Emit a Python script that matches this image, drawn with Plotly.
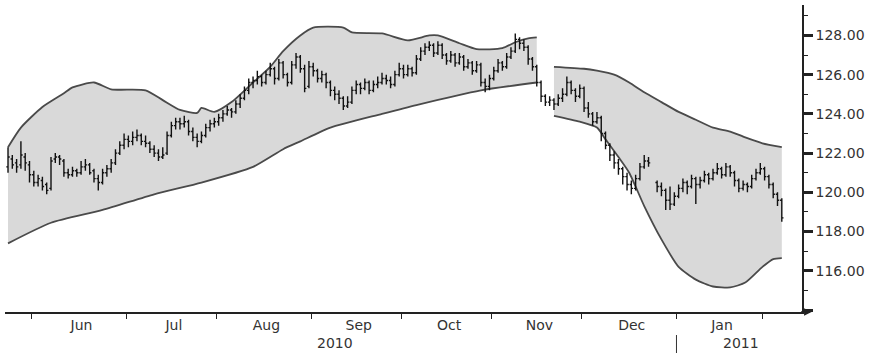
import plotly.graph_objects as go

# trading-day index (0 = first trading day of June 2010)
day_index = list(range(-6, 175))

opens = [121.3,121.7,121.5,121.4,121.8,121.4,
 120.9,120.5,120.6,120.4,120.2,121.7,121.8,121.6,121.0,120.9,
 121.1,121.0,121.3,121.4,121.1,120.7,120.5,121.0,121.2,121.5,
 122.0,122.4,122.7,122.6,122.8,122.9,122.6,122.5,122.2,122.0,
 121.8,122.0,122.9,123.4,123.6,123.5,123.6,123.1,122.8,122.6,
 122.9,123.3,123.5,123.6,123.8,124.0,124.2,124.1,124.5,124.8,
 125.2,125.6,125.7,125.9,125.6,126.0,126.3,125.8,126.6,126.0,
 125.6,126.5,126.9,126.3,125.4,126.4,126.2,125.8,126.0,125.6,
 125.2,125.0,124.8,124.4,124.6,125.2,125.5,125.3,125.6,125.2,
 125.5,125.6,125.8,125.7,125.5,126.0,126.3,126.0,126.3,126.1,
 126.8,127.2,127.4,127.5,127.1,127.5,127.0,126.7,127.0,126.6,
 126.9,126.4,126.6,126.2,126.5,125.6,125.4,125.8,126.2,126.6,
 126.4,126.9,127.2,127.8,127.6,127.4,126.8,126.4,125.6,124.9,
 124.6,124.7,124.5,124.8,125.0,125.6,125.2,124.9,125.3,124.3,
 124.0,123.6,123.8,123.0,122.4,121.9,121.5,121.2,120.8,120.4,
 120.2,120.7,121.3,121.6,None,120.5,120.3,120.1,119.6,119.4,
 119.8,120.2,120.5,120.3,120.7,120.4,120.6,120.9,120.7,121.0,
 121.2,120.9,121.3,121.0,120.6,120.2,120.4,120.3,120.7,121.0,
 121.2,120.8,120.4,119.9,119.6]

highs = [122.3,121.9,121.7,122.6,122.0,121.6,
 121.1,120.9,120.8,120.5,121.8,122.0,121.9,121.7,121.2,121.3,
 121.2,121.6,121.7,121.5,121.2,120.9,121.2,121.4,121.7,122.2,
 122.6,123.0,122.9,123.1,123.2,123.0,122.9,122.6,122.4,122.2,
 122.3,123.1,123.6,123.8,123.8,123.9,123.7,123.3,123.0,123.1,
 123.5,123.7,123.8,124.0,124.2,124.4,124.3,124.7,125.0,125.4,
 125.8,125.9,126.2,126.0,126.2,126.6,126.4,126.8,126.7,126.1,
 126.7,127.1,127.0,126.5,126.7,126.6,126.3,126.2,126.1,125.7,
 125.4,125.2,124.9,124.9,125.4,125.7,125.6,125.8,125.7,125.7,
 125.9,126.1,126.0,125.9,126.2,126.6,126.5,126.5,126.4,127.0,
 127.4,127.6,127.7,127.6,127.7,127.6,127.1,127.2,127.1,127.1,
 127.0,126.8,126.7,126.7,126.6,125.8,126.0,126.4,126.8,126.7,
 127.1,127.4,128.1,127.9,127.8,127.5,126.9,126.5,125.7,125.0,
 124.9,124.8,125.0,125.3,125.9,125.7,125.3,125.5,125.4,124.6,
 124.1,124.1,123.9,123.1,122.5,122.1,121.7,121.3,121.0,120.6,
 120.9,121.5,121.9,121.8,None,120.6,120.5,120.2,120.3,120.0,
 120.4,120.7,120.6,120.9,120.8,120.8,121.1,121.0,121.2,121.5,
 121.3,121.5,121.4,121.1,120.7,120.6,120.5,120.9,121.2,121.5,
 121.3,120.9,120.5,120.0,119.7]

lows = [121.0,121.2,121.0,121.2,121.1,120.5,
 120.3,120.3,120.1,119.9,120.1,121.5,121.4,120.8,120.7,120.8,
 120.8,120.9,121.1,120.9,120.5,120.1,120.4,120.8,121.0,121.4,
 121.9,122.2,122.3,122.4,122.6,122.4,122.3,122.0,121.8,121.6,
 121.7,121.9,122.8,123.2,123.2,123.3,122.9,122.6,122.3,122.5,
 122.8,123.1,123.3,123.4,123.6,123.9,123.8,124.0,124.3,124.7,
 125.0,125.3,125.5,125.4,125.5,125.9,125.5,125.7,125.8,125.4,
 125.5,126.3,126.1,125.1,125.3,125.9,125.6,125.6,125.3,124.9,
 124.7,124.5,124.2,124.3,124.5,125.0,125.0,125.2,125.0,125.1,
 125.3,125.5,125.5,125.3,125.4,125.9,125.8,125.9,125.9,126.0,
 126.7,127.0,127.2,126.9,127.0,126.8,126.5,126.6,126.4,126.5,
 126.2,126.3,126.0,126.1,125.4,125.1,125.2,125.7,126.1,126.2,
 126.3,126.8,127.1,127.3,127.2,126.5,126.2,125.4,124.6,124.4,
 124.4,124.2,124.4,124.6,124.9,125.0,124.6,124.8,124.1,123.8,
 123.4,123.5,122.6,122.2,121.6,121.2,120.9,120.4,120.1,119.9,
 120.1,120.6,121.2,121.3,None,120.0,119.8,119.1,119.1,119.3,
 119.7,120.0,119.9,120.2,119.4,120.2,120.5,120.4,120.6,120.9,
 120.7,120.8,120.8,120.3,120.0,120.1,120.0,120.2,120.6,120.9,
 120.6,120.2,119.7,119.3,118.5]

closes = [121.8,121.4,121.3,121.9,121.5,120.9,
 120.5,120.7,120.3,120.1,121.6,121.8,121.7,121.0,120.9,121.1,
 121.0,121.3,121.4,121.0,120.7,120.5,121.0,121.2,121.5,122.0,
 122.4,122.7,122.6,122.8,122.9,122.6,122.5,122.2,122.0,121.8,
 121.9,122.9,123.4,123.6,123.5,123.6,123.1,122.8,122.6,122.9,
 123.3,123.5,123.6,123.8,124.0,124.2,124.1,124.5,124.8,125.2,
 125.6,125.7,125.9,125.6,126.0,126.3,125.8,126.6,126.0,125.6,
 126.5,126.9,126.3,125.3,126.4,126.2,125.8,126.0,125.6,125.2,
 125.0,124.8,124.4,124.6,125.2,125.5,125.3,125.6,125.2,125.5,
 125.6,125.8,125.7,125.5,126.0,126.3,126.0,126.3,126.1,126.8,
 127.2,127.4,127.5,127.1,127.5,127.0,126.7,127.0,126.6,126.9,
 126.4,126.6,126.2,126.5,125.6,125.4,125.8,126.2,126.6,126.4,
 126.9,127.2,127.8,127.6,127.4,126.8,126.4,125.6,124.9,124.6,
 124.7,124.5,124.8,125.0,125.6,125.2,124.9,125.3,124.3,124.0,
 123.6,123.8,123.0,122.4,121.9,121.5,121.2,120.8,120.4,120.2,
 120.7,121.3,121.6,121.5,None,120.3,120.1,119.6,119.4,119.8,
 120.2,120.5,120.3,120.7,120.4,120.6,120.9,120.7,121.0,121.2,
 120.9,121.3,121.0,120.6,120.2,120.4,120.3,120.7,121.0,121.2,
 120.8,120.4,119.9,119.6,118.7]

# envelope band, first segment
upper1_x = [-6,-3,2,7,9,14,18,26,30,34,38,39,42,46,51,55,58,62,65,72,74,81,87,92,94,99,103,109,112,115,117]
upper1_y = [122.3,123.3,124.35,125.05,125.35,125.6,125.25,125.2,124.7,124.2,124.05,124.3,124.1,124.6,125.6,
            126.4,127.2,128.0,128.4,128.4,128.15,128.1,127.75,128.0,128.0,127.6,127.3,127.35,127.65,127.85,127.9]
lower1_x = [-6,4,16,28,39,51,58,62,69,81,89,104,117]
lower1_y = [117.4,118.45,119.1,119.9,120.5,121.3,122.2,122.6,123.3,124.0,124.45,125.2,125.6]
# envelope band, second segment
upper2_x = [121,128,131,135,138.5,142,146,150,154,158,162,165.5,169.5,174]
upper2_y = [126.4,126.3,126.2,126.0,125.6,125.1,124.6,124.1,123.7,123.3,123.1,122.8,122.5,122.3]
lower2_x = [121,127,131,133,136,138.5,142,146,150,154,158,162,165.5,169.5,172,174]
lower2_y = [123.9,123.6,123.3,122.7,121.8,121.0,119.3,117.6,116.2,115.55,115.2,115.15,115.4,116.2,116.6,116.65]

month_bounds = [-0.5,21.5,42.5,64.5,85.5,106.5,127.5,149.5,169.5]
month_labels = ["Jun","Jul","Aug","Sep","Oct","Nov","Dec","Jan"]
year_labels = ["2010","2011"]
year_pos = [70,164.5]
y_ticks = [114,116,118,120,122,124,126,128]
y_ticktext = ["","116.00","118.00","120.00","122.00","124.00","126.00","128.00"]
y_minor = [115,117,119,121,123,125,127,129]

month_centers = [(a+b)/2 + 0.6 for a,b in zip(month_bounds[:-1], month_bounds[1:])]

BAND_LINE = "#4a4a4a"
BAND_FILL = "#d9d9d9"
TXT = "#333333"
AX = "#222222"

fig = go.Figure()
for lx, ly, ux, uy in [(lower1_x, lower1_y, upper1_x, upper1_y), (lower2_x, lower2_y, upper2_x, upper2_y)]:
    fig.add_trace(go.Scatter(x=lx, y=ly, mode="lines", line=dict(color=BAND_LINE, width=1.8, shape="spline", smoothing=0.6),
                             showlegend=False, hoverinfo="skip"))
    fig.add_trace(go.Scatter(x=ux, y=uy, mode="lines", line=dict(color=BAND_LINE, width=1.8, shape="spline", smoothing=0.6),
                             fill="tonexty", fillcolor=BAND_FILL, showlegend=False, hoverinfo="skip"))

# price bars on an overlaid subplot so they are drawn above the band
fig.add_trace(go.Ohlc(x=day_index, open=opens, high=highs, low=lows, close=closes,
                      xaxis="x2", yaxis="y2",
                      increasing=dict(line=dict(color="#111111", width=1.4)),
                      decreasing=dict(line=dict(color="#111111", width=1.4)),
                      tickwidth=0.4, showlegend=False))

xr = [-6.7, 178.7]
yr = [113.9, 129.55]
fig.update_layout(
    width=872, height=353,
    margin=dict(l=5, r=70, t=5, b=41, autoexpand=False),
    paper_bgcolor="white", plot_bgcolor="white",
    font=dict(family="DejaVu Sans", size=14, color=TXT),
    xaxis=dict(range=xr, showgrid=False, zeroline=False, showline=True, linecolor=AX, linewidth=1.5,
               ticks="outside", tickvals=month_bounds, ticklen=5, tickcolor=AX, tickwidth=1.2,
               showticklabels=False, rangeslider=dict(visible=False), automargin=False),
    xaxis2=dict(range=xr, overlaying="x", anchor="y2", side="bottom", showgrid=False, zeroline=False, showline=False,
                tickvals=month_centers, ticktext=month_labels, ticks="", ticklabelstandoff=3,
                tickfont=dict(family="DejaVu Sans", size=14, color=TXT), rangeslider=dict(visible=False),
                automargin=False),
    yaxis=dict(range=yr, side="right", showgrid=False, zeroline=False, showline=True,
               linecolor=AX, linewidth=1.5, ticks="outside", tickvals=y_ticks, ticktext=y_ticktext,
               ticklen=9, tickwidth=2.5, tickcolor=AX, automargin=False,
               tickfont=dict(family="DejaVu Sans", size=14, color=TXT),
               minor=dict(tickvals=y_minor, ticks="outside", ticklen=4, tickwidth=1.2, tickcolor=AX)),
    yaxis2=dict(range=yr, overlaying="y", visible=False, automargin=False),
)

for lbl, pos in zip(year_labels, year_pos):
    fig.add_annotation(x=pos, y=-0.1, xref="x", yref="paper", text=lbl, showarrow=False,
                       font=dict(family="DejaVu Sans", size=14, color=TXT), yanchor="middle")

fig.add_shape(type="line", xref="x", yref="paper", x0=month_bounds[7], x1=month_bounds[7], y0=-0.075, y1=-0.15,
              line=dict(color=TXT, width=1))
fig.add_annotation(x=1.012, y=0, xref="paper", yref="paper", ax=-12, ay=0, showarrow=True,
                   arrowhead=2, arrowsize=1, arrowwidth=1.5, arrowcolor=AX, text="")

fig.write_html("out.html", config={"displayModeBar": False},
               post_script="document.body.style.margin='0';document.body.style.overflow='hidden';")
